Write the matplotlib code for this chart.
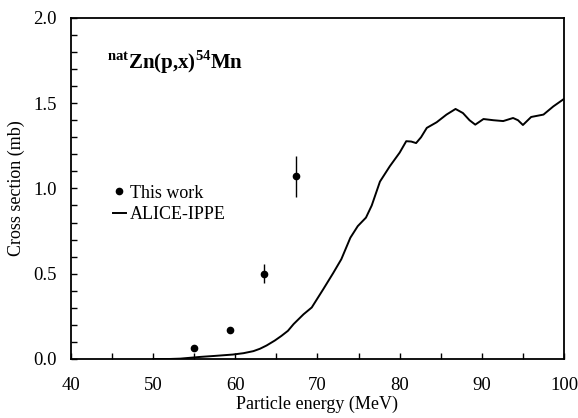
import numpy as np
import matplotlib.pyplot as plt
from matplotlib.ticker import MultipleLocator

plt.rcParams['font.family'] = ['Liberation Serif', 'DejaVu Serif']
plt.rcParams['mathtext.fontset'] = 'custom'
plt.rcParams['mathtext.rm'] = 'Liberation Serif'
plt.rcParams['mathtext.bf'] = 'Liberation Serif:bold'

# Messdaten (this work)
E_exp = [54.96, 59.3, 63.5, 67.4]
sigma_exp = [0.063, 0.172, 0.50, 1.072]
err_exp = [0.0, 0.0, 0.056, 0.12]

# ALICE-IPPE Rechnung
E_calc = [50.0, 52.0, 53.3, 55.7, 57.5, 59.7, 61.0, 62.2, 63.0, 63.8, 64.8, 65.6,
          66.4, 67.1, 68.3, 69.3, 70.7, 71.9, 72.9, 74.0, 74.9, 75.9, 76.6,
          77.6, 78.8, 80.0, 80.8, 81.4, 82.0, 82.6, 83.3, 84.5, 85.7, 86.8,
          87.7, 88.5, 89.2, 90.2, 91.4, 92.6, 93.8, 94.4, 95.0, 96.0, 97.5,
          98.7, 100.0]
sigma_calc = [0.0, 0.0, 0.002, 0.012, 0.018, 0.026, 0.034, 0.046, 0.060, 0.079,
              0.108, 0.135, 0.165, 0.205, 0.262, 0.302, 0.409, 0.503, 0.585,
              0.711, 0.779, 0.829, 0.90, 1.04, 1.13, 1.21, 1.277, 1.275,
              1.266, 1.30, 1.355, 1.388, 1.433, 1.466, 1.442, 1.40, 1.374,
              1.407, 1.40, 1.395, 1.413, 1.40, 1.372, 1.419, 1.433, 1.481, 1.525]

fig = plt.figure(figsize=(5.78, 4.18), dpi=100)
ax = fig.add_axes([0.1228, 0.1412, 0.853, 0.816])

ax.errorbar(E_exp, sigma_exp, yerr=err_exp, fmt='none', ecolor='black',
            elinewidth=1, capsize=0)
pts, = ax.plot(E_exp, sigma_exp, 'o', color='black', ms=4.5, label='This work')
curve, = ax.plot(E_calc, sigma_calc, color='black', lw=1.4, label='ALICE-IPPE')

ax.set_xlim(40, 100)
ax.set_ylim(0, 2.0)
ax.xaxis.set_major_locator(MultipleLocator(10))
ax.xaxis.set_minor_locator(MultipleLocator(5))
ax.yaxis.set_major_locator(MultipleLocator(0.5))
ax.yaxis.set_minor_locator(MultipleLocator(0.1))
ax.yaxis.set_major_formatter(plt.FormatStrFormatter('%.1f'))
ax.tick_params(which='both', direction='in', top=False, right=False,
               labelsize=13.5, width=1)
ax.tick_params(which='major', length=4)
ax.tick_params(which='minor', length=4)
ax.tick_params(axis='x', which='major', pad=13)
ax.tick_params(axis='y', which='major', pad=10)
for s in ax.spines.values():
    s.set_linewidth(1.3)

ax.set_xlabel('Particle energy (MeV)', fontsize=13, labelpad=1)
ax.set_ylabel('Cross section (mb)', fontsize=13, labelpad=6)

ax.text(0.073, 0.871, r'$^{\mathbf{nat}}$Zn(p,x)$^{\mathbf{54}}$Mn', transform=ax.transAxes,
        fontsize=15, fontweight='bold', va='center')

ax.legend(handles=[pts, curve], loc='center left', bbox_to_anchor=(0.07, 0.455),
          frameon=False, fontsize=13, handlelength=0.75, handletextpad=0.2,
          labelspacing=0.25, borderaxespad=0)

fig.savefig('out.png', dpi=100)
